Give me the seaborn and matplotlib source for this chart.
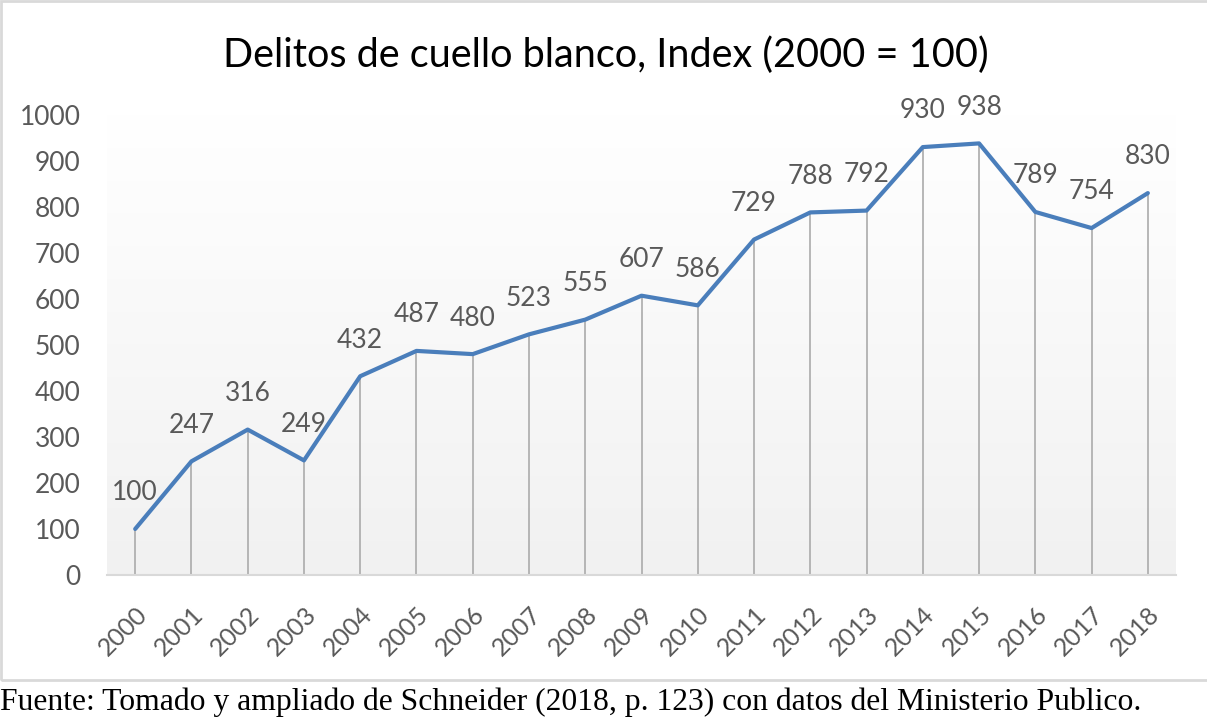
import numpy as np
import pandas as pd
import seaborn as sns
import matplotlib.pyplot as plt
from matplotlib.patches import Rectangle

years = list(range(2000, 2019))
index_vals = [100, 247, 316, 249, 432, 487, 480, 523, 555, 607, 586,
              729, 788, 792, 930, 938, 789, 754, 830]
y_ticks = list(range(0, 1100, 100))

df = pd.DataFrame({"Year": years, "Index": index_vals})

sns.set_style("white")
plt.rcParams['font.family'] = ['Lato', 'DejaVu Sans']

fig = plt.figure(figsize=(12.07, 7.28), dpi=100)
ax = fig.add_axes([0.0887, 0.2102, 0.8856, 0.632])

# gradient plot area, white at top to light grey at bottom
grad = np.linspace(1, 0, 256).reshape(-1, 1)
ax.imshow(grad, cmap=sns.blend_palette(["#f1f1f1", "#ffffff"], as_cmap=True),
          extent=[1999.5, 2018.5, 0, 1000], aspect='auto', zorder=0)

ax.vlines(df["Year"], 0, df["Index"], color="#ababab", lw=1.2, zorder=1)
sns.lineplot(x="Year", y="Index", data=df, color="#4a7ebb", lw=3, ax=ax, zorder=2)

for yr, v in zip(years, index_vals):
    ax.annotate(str(v), (yr, v), xytext=(0, 17), textcoords="offset points",
                ha="center", va="bottom", fontsize=19, color="#595959",
                annotation_clip=False)

ax.set_xlim(1999.5, 2018.5)
ax.set_ylim(0, 1000)
ax.set_yticks(y_ticks)
ax.set_xticks(years)
ax.set_xticklabels([str(y) for y in years], rotation=45, ha="right",
                   rotation_mode="anchor", fontsize=18, color="#595959")
ax.tick_params(axis="y", labelsize=19, labelcolor="#595959", length=0, pad=19)
ax.tick_params(axis="x", length=0, pad=20)
ax.set_xlabel("")
ax.set_ylabel("")
for s in ["top", "right", "left"]:
    ax.spines[s].set_visible(False)
ax.spines["bottom"].set_color("#d9d9d9")
ax.spines["bottom"].set_linewidth(1.5)

fig.text(0.502, 0.924, "Delitos de cuello blanco, Index (2000 = 100)",
         ha="center", va="center", fontsize=28.5, color="#000000")

fig.patches.append(Rectangle((0.001, 0.066), 1.2, 0.932, transform=fig.transFigure,
                             fill=False, edgecolor="#d9d9d9", lw=2))

fig.text(0.0, 0.036, "Fuente: Tomado y ampliado de Schneider (2018, p. 123) con datos del Ministerio Publico.",
         ha="left", va="center", fontsize=22.8, color="black", family=["Liberation Serif"])

fig.savefig("out.png", dpi=100)
